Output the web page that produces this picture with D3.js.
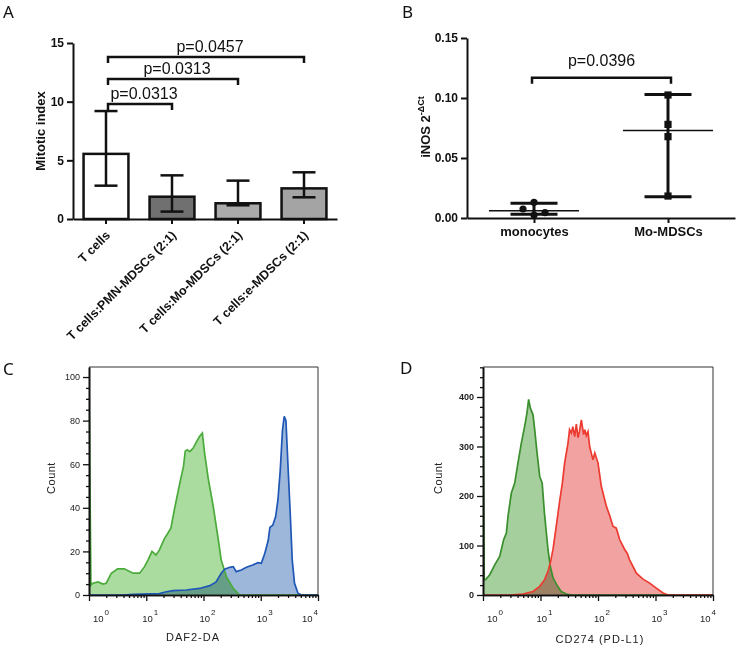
<!DOCTYPE html>
<html><head><meta charset="utf-8">
<script src="https://cdn.jsdelivr.net/npm/d3@7"></script>
<style>
body{margin:0;background:#fff}
svg{display:block}
text{font-family:"Liberation Sans",Arial,sans-serif}
</style>
</head><body>
<svg id="chart" width="750" height="656"></svg>
<script>
// ---------------- DATA ----------------
// Panel A : mitotic index bars
const aCategories = ["T cells", "T cells:PMN-MDSCs (2:1)", "T cells:Mo-MDSCs (2:1)", "T cells:e-MDSCs (2:1)"];
const aMeans   = [5.55, 1.90, 1.34, 2.61];
const aErrLow  = [2.84, 0.63, 1.17, 1.85];
const aErrHigh = [9.20, 3.72, 3.27, 3.98];
const aTicks   = [0, 5, 10, 15];
const aCompFrom = [0, 0, 0];
const aCompTo   = [1, 2, 3];
const aCompY    = [9.8, 11.93, 13.8];
const aCompText = ["p=0.0313", "p=0.0313", "p=0.0457"];

// Panel B : iNOS expression
const bCategories = ["monocytes", "Mo-MDSCs"];
const bMonocytes  = [0.0075, 0.0131, 0.0025, 0.0044];
const bMonoOffset = [-1, 0, 0, 1];          // jitter slot of each point
const bMoMDSCs    = [0.1025, 0.078, 0.0678, 0.0183];
const bMeans      = [0.0061, 0.073];
const bErrLow     = [0.0031, 0.0178];
const bErrHigh    = [0.0122, 0.103];
const bTicks      = [0, 0.05, 0.10, 0.15];
const bCompY      = 0.1169;
const bCompText   = "p=0.0396";

// Panel C : DAF2-DA histograms  [intensity, count]
const cGreen = [[1,0],[1,102],[1.08,4.5],[1.17,5.4],[1.44,6],[1.76,5],[2.0,5.4],[2.45,10],[3.16,12],[4.14,12],[5.89,10],[7.67,10],[9.33,13],[10.7,16],[12.6,20],[14.8,18.4],[17,20.7],[20.9,26],[23.4,28],[26.9,30.6],[30.9,39],[38,50.5],[44.7,59],[48,66],[52,66.6],[57.5,65.8],[66,67.4],[75.9,70.4],[85.1,72.7],[95.5,74.3],[104.7,65],[120,54],[148,40.6],[178,26.8],[204,16],[251,8.4],[331,3],[427,0],[10000,0]];
const cBlue  = [[1,0],[4,0],[5.9,0.3],[17,0.6],[22.4,1.5],[29.5,2],[50,2.3],[85,3],[129,4.3],[166,6],[204,10],[234,11.8],[288,12.7],[331,13],[372,10.7],[457,11.5],[562,12.7],[724,13.8],[891,14.8],[1023,14.5],[1175,19],[1349,25],[1445,31],[1622,32],[1820,36],[1995,43.6],[2188,57],[2399,75.8],[2570,82],[2754,80],[3020,57],[3311,34.5],[3548,16],[3890,5.4],[4467,0.8],[5129,0],[10000,0]];
const cYMajor = [0, 20, 40, 60, 80, 100];
const cYMax = 104.6;

// Panel D : CD274 (PD-L1) histograms
const dGreen = [[1,0],[1,448],[1.05,31],[1.11,31],[1.31,41],[1.6,61],[1.95,78],[2.29,112],[2.55,125],[2.72,159],[3.11,206],[3.56,226],[4.06,267],[4.64,307],[5.31,341],[5.82,368],[6.22,395],[6.65,378],[7.41,364],[7.93,334],[8.71,287],[9.68,240],[10.7,226],[11.7,166],[13.5,92],[14.8,58],[16.6,34],[19.1,21],[22.9,7],[28.2,2],[34.7,0],[10000,0]];
const dRed   = [[1,0],[3,0],[4.97,2],[7.41,7],[9.68,17.5],[11.8,31],[13.5,48],[14.8,65],[16.5,92],[18.8,139],[21.5,189],[24,226],[26.3,267],[30.1,307],[32,334],[34.4,327],[36.5,340],[39.3,320],[42,345],[44.9,318],[47.5,330],[51.3,354],[56.2,324],[59,334],[62.7,322],[67,330],[71.6,300],[81.8,273],[88,287],[100,267],[114,220],[126,200],[140,179],[160,160],[182,139],[208,135],[238,112],[291,92],[320,85],[355,71],[465,44],[607,32],[792,24],[1033,14],[1349,4],[1648,0],[10000,0]];
const dYMajor = [0, 100, 200, 300, 400];
const dYMax = 460.6;

const logMajors = [1, 10, 100, 1000, 10000];
const logExps   = ["0", "1", "2", "3", "4"];

// ---------------- DRAWING ----------------
const svg = d3.select("#chart");
svg.append("rect").attr("width", 750).attr("height", 656).attr("fill", "#fff");

// panel letters
[["A", 3, 18], ["B", 402, 18], ["C", 3, 375], ["D", 400, 374]].forEach(p => {
  svg.append("text").text(p[0]).attr("x", p[1]).attr("y", p[2])
    .style("font-family", "'Noto Sans','Open Sans',sans-serif").style("font-size", "17px").attr("fill", "#111");
});

function styleAxis(g, w) {
  g.select(".domain").attr("stroke", "#111").attr("stroke-width", w);
  g.selectAll(".tick line").attr("stroke", "#111").attr("stroke-width", w);
  g.selectAll(".tick text").attr("fill", "#111").style("font-weight", "bold").style("font-size", "12px");
}

// ===== Panel A =====
const gA = svg.append("g");
const xA = d3.scaleBand().domain(aCategories).range([73, 337]).paddingInner(0.32).paddingOuter(0.16);
const yA = d3.scaleLinear().domain([0, 15]).range([219, 43]);
const aFills = ["#ffffff", "#707070", "#aaaaaa", "#a4a4a4"];
const cxA = i => xA(aCategories[i]) + xA.bandwidth() / 2;

gA.selectAll("rect.bar").data(aCategories).join("rect")
  .attr("x", d => xA(d)).attr("width", xA.bandwidth())
  .attr("y", (d, i) => yA(aMeans[i])).attr("height", (d, i) => yA(0) - yA(aMeans[i]))
  .attr("fill", (d, i) => aFills[i]).attr("stroke", "#111").attr("stroke-width", 2.5);

aCategories.forEach((d, i) => {
  const cx = cxA(i);
  gA.append("line").attr("x1", cx).attr("x2", cx).attr("y1", yA(aErrLow[i])).attr("y2", yA(aErrHigh[i]))
    .attr("stroke", "#111").attr("stroke-width", 2.5);
  [aErrLow[i], aErrHigh[i]].forEach(v => {
    gA.append("line").attr("x1", cx - 11.5).attr("x2", cx + 11.5).attr("y1", yA(v)).attr("y2", yA(v))
      .attr("stroke", "#111").attr("stroke-width", 2.5);
  });
});

aCompFrom.forEach((f, k) => {
  const x1 = cxA(f) + 2, x2 = cxA(aCompTo[k]), yy = yA(aCompY[k]);
  gA.append("path").attr("d", `M${x1},${yy + 6}V${yy}H${x2}V${yy + 6}`)
    .attr("fill", "none").attr("stroke", "#111").attr("stroke-width", 2.5);
  gA.append("text").text(aCompText[k]).attr("x", (x1 + x2) / 2 + 4).attr("y", yy - 5)
    .attr("text-anchor", "middle").style("font-size", "16px").attr("fill", "#111");
});

const axAy = gA.append("g").attr("transform", "translate(73,0)")
  .call(d3.axisLeft(yA).tickValues(aTicks).tickSize(6).tickSizeOuter(0).tickPadding(3).tickFormat(d3.format("d")));
styleAxis(axAy, 2);
const axAx = gA.append("g").attr("transform", "translate(0,219)")
  .call(d3.axisBottom(xA).tickSize(5).tickSizeOuter(0));
styleAxis(axAx, 2);
axAx.selectAll(".tick text").attr("x", 0).attr("y", 0).attr("dy", 0).style("font-size", "12.5px")
  .attr("text-anchor", "end").attr("transform", "translate(5,17) rotate(-45)");

gA.append("text").text("Mitotic index").attr("transform", "translate(45,131) rotate(-90)")
  .attr("text-anchor", "middle").style("font-weight", "bold").style("font-size", "13px").attr("fill", "#111");

// ===== Panel B =====
const gB = svg.append("g");
const xB = d3.scalePoint().domain(bCategories).range([467, 735]).padding(0.5);
const yB = d3.scaleLinear().domain([0, 0.15]).range([218, 38]);

const axBy = gB.append("g").attr("transform", "translate(467,0)")
  .call(d3.axisLeft(yB).tickValues(bTicks).tickSize(6).tickSizeOuter(0).tickPadding(3).tickFormat(d3.format(".2f")));
styleAxis(axBy, 2);
const axBx = gB.append("g").attr("transform", "translate(0,218)")
  .call(d3.axisBottom(xB).tickSize(5).tickSizeOuter(0).tickPadding(4));
styleAxis(axBx, 2);
axBx.selectAll(".tick text").style("font-size", "13px");

bCategories.forEach((c, i) => {
  const cx = xB(c);
  gB.append("line").attr("x1", cx).attr("x2", cx).attr("y1", yB(bErrLow[i])).attr("y2", yB(bErrHigh[i]))
    .attr("stroke", "#111").attr("stroke-width", 3);
  [bErrLow[i], bErrHigh[i]].forEach(v => {
    gB.append("line").attr("x1", cx - 23.5).attr("x2", cx + 23.5).attr("y1", yB(v)).attr("y2", yB(v))
      .attr("stroke", "#111").attr("stroke-width", 3);
  });
  gB.append("line").attr("x1", cx - 45).attr("x2", cx + 45).attr("y1", yB(bMeans[i])).attr("y2", yB(bMeans[i]))
    .attr("stroke", "#111").attr("stroke-width", 1.5);
});
bMonocytes.forEach((v, k) => {
  gB.append("circle").attr("cx", xB("monocytes") + bMonoOffset[k] * 11).attr("cy", yB(v)).attr("r", 3.6).attr("fill", "#111");
});
bMoMDSCs.forEach(v => {
  gB.append("rect").attr("x", xB("Mo-MDSCs") - 3.6).attr("y", yB(v) - 3.6).attr("width", 7.2).attr("height", 7.2).attr("fill", "#111");
});
{
  const x1 = xB("monocytes") - 2, x2 = xB("Mo-MDSCs") + 3, yy = yB(bCompY);
  gB.append("path").attr("d", `M${x1},${yy + 6}V${yy}H${x2}V${yy + 6}`)
    .attr("fill", "none").attr("stroke", "#111").attr("stroke-width", 2.5);
  gB.append("text").text(bCompText).attr("x", (x1 + x2) / 2).attr("y", yy - 12)
    .attr("text-anchor", "middle").style("font-size", "16px").attr("fill", "#111");
}
{
  const t = gB.append("text").attr("transform", "translate(430,127) rotate(-90)").attr("text-anchor", "middle")
    .style("font-weight", "bold").style("font-size", "13px").attr("fill", "#111");
  t.append("tspan").text("iNOS 2");
  t.append("tspan").text("-ΔCt").attr("dy", -6).style("font-size", "9px");
}

// ===== Panels C & D =====
function flowPanel(o) {
  const g = svg.append("g");
  const x = d3.scaleLog().domain([1, 1e4]).range([o.left, o.right]);
  const y = d3.scaleLinear().domain([0, o.yMax]).range([595, 367]);
  const clipId = "clip" + o.id;
  g.append("clipPath").attr("id", clipId).append("rect")
    .attr("x", o.left).attr("y", 367).attr("width", o.right - o.left).attr("height", 228.5);

  const area = d3.area().x(d => x(d[0])).y0(y(0)).y1(d => y(d[1]));
  const line = d3.line().x(d => x(d[0])).y(d => y(d[1]));
  const gp = g.append("g").attr("clip-path", `url(#${clipId})`);
  o.series.forEach(s => {
    gp.append("path").datum(s.data).attr("d", area).attr("fill", s.fill).style("mix-blend-mode", "multiply");
  });
  o.series.forEach(s => {
    gp.append("path").datum(s.data).attr("d", line).attr("fill", "none").attr("stroke", s.stroke).attr("stroke-width", 1.7);
  });

  // frame top/right
  g.append("path").attr("d", `M${o.left},${y(o.yMax)}H${o.right}V${y(0)}`)
    .attr("fill", "none").attr("stroke", "#333").attr("stroke-width", 1);

  // y axis
  const minors = d3.range(0, o.yMax, o.yMinor).filter(v => !o.yMajor.includes(v));
  const ay = g.append("g").attr("transform", `translate(${o.left},0)`)
    .call(d3.axisLeft(y).tickValues(o.yMajor).tickSize(6).tickSizeOuter(0).tickPadding(3));
  const ay2 = g.append("g").attr("transform", `translate(${o.left},0)`)
    .call(d3.axisLeft(y).tickValues(minors).tickSize(3).tickSizeOuter(0).tickFormat(""));
  [ay, ay2].forEach(a => {
    a.select(".domain").attr("stroke", "#111").attr("stroke-width", 1.6);
    a.selectAll(".tick line").attr("stroke", "#111").attr("stroke-width", 1.3);
  });
  ay.selectAll(".tick text").style("font-size", "9px").attr("fill", "#222").style("font-weight", o.tickWeight);

  // x axis (log)
  const xMinors = [];
  for (let d = 1; d < 1e4; d *= 10) for (let m = 2; m <= 9; m++) xMinors.push(m * d);
  const ax = g.append("g").attr("transform", "translate(0,595)")
    .call(d3.axisBottom(x).tickValues(logMajors).tickSize(6).tickSizeOuter(0).tickFormat(""));
  const ax2 = g.append("g").attr("transform", "translate(0,595)")
    .call(d3.axisBottom(x).tickValues(xMinors).tickSize(3).tickSizeOuter(0).tickFormat(""));
  [ax, ax2].forEach(a => {
    a.select(".domain").attr("stroke", "#111").attr("stroke-width", 1.6);
    a.selectAll(".tick line").attr("stroke", "#111").attr("stroke-width", 1.3);
  });
  logMajors.forEach((v, i) => {
    const off = i === 0 ? o.firstOff : (i === logMajors.length - 1 ? o.lastOff : 4);
    const t = g.append("text").attr("x", x(v) + off).attr("y", 622).attr("text-anchor", "middle")
      .style("font-size", "9.5px").attr("fill", "#222");
    t.append("tspan").text("10");
    t.append("tspan").text(logExps[i]).attr("dy", -7).attr("dx", 1).style("font-size", "8px");
  });

  g.append("text").text(o.xTitle).attr("x", o.xTitleX).attr("y", o.xTitleY).attr("text-anchor", "middle")
    .style("font-size", "11px").style("letter-spacing", "1px").attr("fill", "#222");
  g.append("text").text("Count").attr("transform", `translate(${o.countX},478) rotate(-90)`).attr("text-anchor", "middle")
    .style("font-size", "11px").style("letter-spacing", "0.5px").attr("fill", "#222");
}

flowPanel({
  id: "C", left: 89, right: 318, yMax: cYMax, yMajor: cYMajor, yMinor: 5, tickWeight: "normal",
  firstOff: 12, lastOff: -8, xTitle: "DAF2-DA", xTitleX: 193, xTitleY: 641, countX: 55,
  series: [
    { data: cGreen, fill: "#a9dc9e", stroke: "#4aab3b" },
    { data: cBlue,  fill: "#9cb7da", stroke: "#1f57b6" }
  ]
});
flowPanel({
  id: "D", left: 483, right: 713, yMax: dYMax, yMajor: dYMajor, yMinor: 20, tickWeight: "bold",
  firstOff: 12, lastOff: -5, xTitle: "CD274 (PD-L1)", xTitleX: 600, xTitleY: 643, countX: 442,
  series: [
    { data: dGreen, fill: "#a5cf9c", stroke: "#3b8f2e" },
    { data: dRed,   fill: "#f3a2a2", stroke: "#ec3b30" }
  ]
});
</script>
</body></html>
